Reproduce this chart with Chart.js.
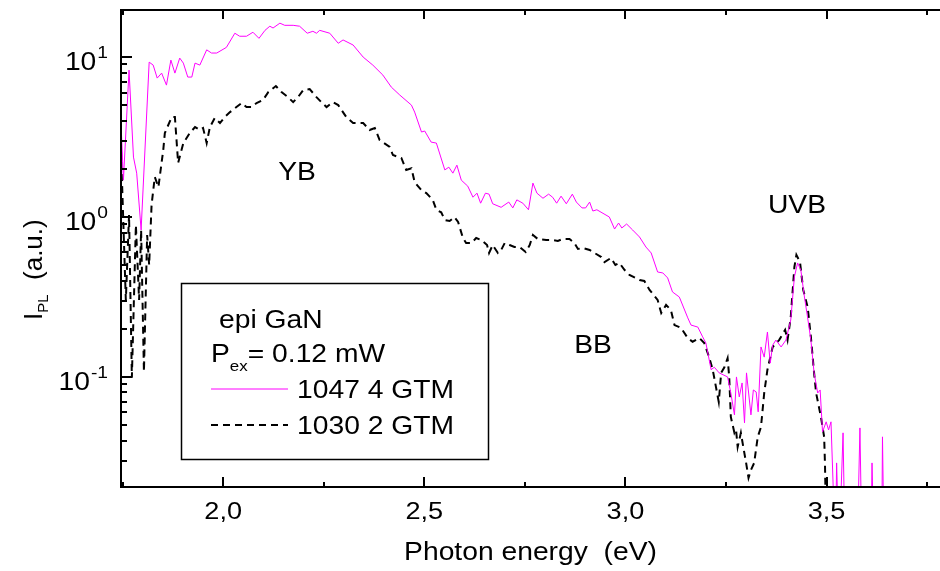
<!DOCTYPE html>
<html>
<head>
<meta charset="utf-8">
<script src="https://cdn.jsdelivr.net/npm/chart.js@4.4.0/dist/chart.umd.min.js"></script>
<style>
  html, body { margin: 0; padding: 0; background: #fff; }
  #wrap { width: 940px; height: 571px; }
</style>
</head>
<body>
<div id="wrap"><canvas id="pl-chart" width="940" height="571"></canvas></div>
<script>
// sample 1047 4 GTM (magenta, solid)
const energy1047 = [1.746, 1.752, 1.766, 1.777, 1.785, 1.796, 1.816, 1.826, 1.836, 1.847, 1.859, 1.870, 1.880, 1.892, 1.901, 1.912, 1.922, 1.930, 1.942, 1.959,
  1.971, 1.984, 2.008, 2.029, 2.041, 2.058, 2.074, 2.089, 2.104, 2.116, 2.124, 2.141, 2.153, 2.174, 2.190, 2.209, 2.223, 2.232, 2.240, 2.265,
  2.286, 2.298, 2.323, 2.348, 2.372, 2.397, 2.418, 2.439, 2.468, 2.476, 2.493, 2.501, 2.517, 2.530, 2.551, 2.561, 2.571, 2.581, 2.592, 2.608,
  2.621, 2.631, 2.640, 2.652, 2.661, 2.670, 2.691, 2.710, 2.720, 2.730, 2.745, 2.759, 2.770, 2.780, 2.795, 2.809, 2.819, 2.829, 2.840, 2.853,
  2.868, 2.878, 2.892, 2.901, 2.911, 2.919, 2.929, 2.960, 2.973, 2.983, 2.991, 3.003, 3.018, 3.035, 3.051, 3.064, 3.080, 3.093, 3.105, 3.117,
  3.134, 3.155, 3.163, 3.180, 3.192, 3.200, 3.213, 3.221, 3.233, 3.254, 3.262, 3.271, 3.276, 3.283, 3.290, 3.296, 3.301, 3.312, 3.318, 3.325,
  3.330, 3.337, 3.345, 3.353, 3.360, 3.366, 3.374, 3.387, 3.399, 3.411, 3.420, 3.428, 3.436, 3.445, 3.453, 3.461, 3.469, 3.478, 3.484, 3.490,
  3.499, 3.505, 3.511, 3.522, 3.525, 3.531, 3.541, 3.546, 3.576, 3.583, 3.588, 3.610, 3.613, 3.618, 3.637, 3.639, 3.643];
const intensity1047 = [3.87, 1.70, 8.29, 2.37, 1.88, 0.83, 9.30, 8.91, 7.39, 7.94, 6.68, 9.58, 7.94, 9.86, 9.17, 7.50, 7.50, 9.17, 8.91, 11.1,
  10.6, 10.6, 11.5, 14.1, 13.5, 13.5, 14.3, 13.1, 14.7, 15.6, 15.2, 16.3, 15.8, 15.8, 15.6, 14.1, 14.5, 14.1, 14.7, 14.1,
  12.2, 12.8, 11.9, 10.0, 8.91, 7.72, 6.49, 5.79, 5.01, 4.53, 3.40, 3.45, 2.94, 2.90, 1.97, 2.05, 1.88, 2.11, 1.70, 1.56,
  1.33, 1.41, 1.22, 1.41, 1.39, 1.21, 1.15, 1.24, 1.14, 1.28, 1.22, 1.11, 1.63, 1.41, 1.31, 1.39, 1.33, 1.22, 1.35, 1.21,
  1.39, 1.24, 1.14, 1.14, 1.24, 1.09, 1.11, 1.00, 0.841, 0.917, 0.854, 0.904, 0.829, 0.750, 0.649, 0.596, 0.453, 0.447, 0.416, 0.340,
  0.316, 0.234, 0.211, 0.205, 0.178, 0.163, 0.111, 0.115, 0.106, 0.100, 0.0794, 0.0579, 0.100, 0.0750, 0.0917, 0.0516, 0.106, 0.0579, 0.0829, 0.0806,
  0.0605, 0.154, 0.133, 0.191, 0.122, 0.158, 0.170, 0.154, 0.170, 0.227, 0.422, 0.516, 0.466, 0.316, 0.234, 0.170, 0.106, 0.0794, 0.0829, 0.0453,
  0.0524, 0.0466, 0.0524, 0.008, 0.029, 0.008, 0.0447, 0.008, 0.008, 0.048, 0.008, 0.008, 0.029, 0.008, 0.008, 0.0422, 0.008];

// sample 1030 2 GTM (black, dashed)
const energy1030 = [1.746, 1.758, 1.766, 1.773, 1.783, 1.791, 1.796, 1.803, 1.811, 1.816, 1.822, 1.830, 1.839, 1.851, 1.855, 1.872, 1.880, 1.888, 1.901, 1.917,
  1.930, 1.942, 1.950, 1.959, 1.967, 1.979, 1.992, 2.004, 2.017, 2.033, 2.046, 2.058, 2.071, 2.083, 2.099, 2.112, 2.131, 2.145, 2.161, 2.174,
  2.186, 2.199, 2.215, 2.232, 2.244, 2.257, 2.273, 2.286, 2.306, 2.323, 2.348, 2.364, 2.377, 2.389, 2.414, 2.422, 2.443, 2.455, 2.468, 2.476,
  2.493, 2.505, 2.521, 2.530, 2.542, 2.551, 2.563, 2.575, 2.584, 2.596, 2.604, 2.617, 2.629, 2.642, 2.656, 2.661, 2.670, 2.683, 2.691, 2.700,
  2.712, 2.724, 2.737, 2.752, 2.762, 2.770, 2.782, 2.803, 2.819, 2.832, 2.844, 2.861, 2.873, 2.882, 2.894, 2.911, 2.923, 2.940, 2.948, 2.964,
  2.975, 2.985, 2.998, 3.010, 3.035, 3.047, 3.060, 3.080, 3.089, 3.101, 3.113, 3.122, 3.138, 3.155, 3.167, 3.184, 3.196, 3.208, 3.217, 3.225,
  3.232, 3.238, 3.246, 3.254, 3.258, 3.262, 3.271, 3.275, 3.279, 3.287, 3.293, 3.300, 3.306, 3.312, 3.320, 3.329, 3.337, 3.345, 3.353, 3.366,
  3.382, 3.397, 3.403, 3.411, 3.420, 3.425, 3.434, 3.442, 3.453, 3.461, 3.469, 3.474, 3.486, 3.494, 3.496, 3.500];
const intensity1030 = [2.62, 0.303, 1.03, 0.099, 0.891, 0.303, 0.829, 0.108, 0.772, 0.501, 1.19, 1.78, 1.54, 2.62, 3.35, 4.22, 4.22, 2.18, 2.90, 3.35,
  3.65, 3.50, 3.60, 2.90, 3.65, 4.16, 3.87, 4.22, 4.53, 4.87, 5.16, 4.87, 4.87, 5.16, 5.39, 6.04, 6.59, 6.04, 5.62, 5.23,
  5.62, 6.22, 6.31, 5.62, 5.23, 4.87, 5.23, 5.01, 4.22, 3.87, 3.87, 3.50, 3.60, 3.03, 2.74, 2.44, 2.34, 1.97, 2.02, 1.65,
  1.47, 1.41, 1.28, 1.11, 1.07, 0.958, 0.944, 1.00, 0.931, 0.739, 0.688, 0.688, 0.739, 0.718, 0.668, 0.596, 0.668, 0.596, 0.622, 0.688,
  0.668, 0.649, 0.649, 0.604, 0.668, 0.772, 0.729, 0.718, 0.718, 0.708, 0.729, 0.729, 0.688, 0.631, 0.640, 0.622, 0.596, 0.562, 0.523, 0.554,
  0.501, 0.516, 0.466, 0.434, 0.404, 0.398, 0.350, 0.303, 0.251, 0.282, 0.262, 0.211, 0.203, 0.175, 0.166, 0.175, 0.163, 0.133, 0.111, 0.0866,
  0.0698, 0.106, 0.115, 0.131, 0.100, 0.0562, 0.0447, 0.0466, 0.0365, 0.0447, 0.0365, 0.029, 0.0234, 0.0262, 0.029, 0.0422, 0.0487, 0.0794, 0.111, 0.154,
  0.170, 0.197, 0.170, 0.237, 0.487, 0.579, 0.523, 0.350, 0.274, 0.178, 0.106, 0.0794, 0.0562, 0.0422, 0.029, 0.008];

const seriesLabels = ['1047 4 GTM', '1030 2 GTM'];
const xMajorTicks = [2.0, 2.5, 3.0, 3.5];
const xTickLabels = ['2,0', '2,5', '3,0', '3,5'];
const xMinorTicks = [1.75, 2.25, 2.75, 3.25, 3.75];
const yMajorTicks = [10, 1, 0.1];
const yTickExponents = ['1', '0', '-1'];
const bandLabels = ['YB', 'BB', 'UVB'];

const FONT = '"Liberation Sans", Arial, sans-serif';
const SX = 1.13; // the original text is a bit wider than plain Arial

function toPoints(xs, ys) {
    return xs.map((e, i) => ({ x: e, y: ys[i] }));
}

// draws stretched text, returns its width
function putText(c, str, x, y, size, align) {
    c.save();
    c.font = size + 'px ' + FONT;
    c.textAlign = align || 'left';
    c.translate(x, y);
    c.scale(SX, 1);
    c.fillText(str, 0, 0);
    const w = c.measureText(str).width * SX;
    c.restore();
    return w;
}

function textWidth(c, str, size) {
    c.save();
    c.font = size + 'px ' + FONT;
    const w = c.measureText(str).width * SX;
    c.restore();
    return w;
}

const decorations = {
    id: 'decorations',
    afterDraw(chart) {
        const { ctx, chartArea: a } = chart;
        const x = chart.scales.x;
        const y = chart.scales.y;
        ctx.save();
        ctx.strokeStyle = '#000';
        ctx.fillStyle = '#000';
        ctx.lineWidth = 2;
        ctx.textBaseline = 'alphabetic';

        // frame (no right side in the original)
        ctx.beginPath();
        ctx.moveTo(a.right, a.top);
        ctx.lineTo(a.left, a.top);
        ctx.lineTo(a.left, a.bottom);
        ctx.lineTo(a.right, a.bottom);
        ctx.stroke();

        // x ticks, inward, top and bottom
        ctx.beginPath();
        xMajorTicks.forEach(v => {
            const px = Math.round(x.getPixelForValue(v));
            ctx.moveTo(px, a.bottom); ctx.lineTo(px, a.bottom - 10);
            ctx.moveTo(px, a.top); ctx.lineTo(px, a.top + 9);
        });
        xMinorTicks.forEach(v => {
            const px = Math.round(x.getPixelForValue(v));
            ctx.moveTo(px, a.bottom); ctx.lineTo(px, a.bottom - 5);
            ctx.moveTo(px, a.top); ctx.lineTo(px, a.top + 5);
        });
        // y ticks, inward
        yMajorTicks.forEach(v => {
            const py = Math.round(y.getPixelForValue(v));
            ctx.moveTo(a.left, py); ctx.lineTo(a.left + 11, py);
        });
        [0.01, 0.1, 1, 10].forEach(d => {
            for (let m = 2; m <= 9; m++) {
                const v = m * d;
                if (v < y.min || v > y.max) continue;
                const py = Math.round(y.getPixelForValue(v));
                ctx.moveTo(a.left, py); ctx.lineTo(a.left + 6, py);
            }
        });
        ctx.stroke();

        // x tick labels
        xMajorTicks.forEach((v, i) => {
            putText(ctx, xTickLabels[i], x.getPixelForValue(v), a.bottom + 32, 24, 'center');
        });

        // y tick labels 10^n
        yMajorTicks.forEach((v, i) => {
            const py = y.getPixelForValue(v);
            const supW = putText(ctx, yTickExponents[i], 108, py + 1, 17, 'right');
            putText(ctx, '10', 108 - supW - 1, py + 13, 25, 'right');
        });

        // axis titles
        putText(ctx, 'Photon energy  (eV)', (a.left + a.right) / 2, 560, 25, 'center');

        ctx.save();
        ctx.translate(42, 320);
        ctx.rotate(-Math.PI / 2);
        ctx.textAlign = 'left';
        ctx.font = '26px ' + FONT;
        ctx.fillText('I', 0, 0);
        let w = ctx.measureText('I').width;
        ctx.font = '15px ' + FONT;
        ctx.fillText('PL', w, 6);
        w += ctx.measureText('PL').width;
        ctx.font = '26px ' + FONT;
        ctx.fillText('  (a.u.)', w, 0);
        ctx.restore();

        // band annotations
        putText(ctx, bandLabels[0], 297, 180, 25, 'center');
        putText(ctx, bandLabels[1], 593, 353, 25, 'center');
        putText(ctx, bandLabels[2], 797, 213, 25, 'center');

        // legend box
        ctx.lineWidth = 1.5;
        ctx.strokeRect(181.5, 283.5, 307, 176);
        putText(ctx, 'epi GaN', 219, 328, 25);
        let pw = putText(ctx, 'P', 211, 362, 25);
        pw += putText(ctx, 'ex', 211 + pw, 371, 15);
        putText(ctx, '= 0.12 mW', 211 + pw, 362, 25);

        const ds = chart.data.datasets;
        [389, 425].forEach((ly, i) => {
            ctx.strokeStyle = ds[i].borderColor;
            ctx.lineWidth = ds[i].borderWidth;
            ctx.setLineDash(ds[i].borderDash || []);
            ctx.beginPath();
            ctx.moveTo(211, ly);
            ctx.lineTo(288, ly);
            ctx.stroke();
            ctx.setLineDash([]);
            putText(ctx, seriesLabels[i], 297, ly + 8.5, 25);
        });
        ctx.restore();
    }
};

const ctx = document.getElementById('pl-chart').getContext('2d');
const plChart = new Chart(ctx, {
    type: 'line',
    data: {
        datasets: [{
            label: seriesLabels[0],
            data: toPoints(energy1047, intensity1047),
            borderColor: '#ff00ff',
            borderWidth: 1,
            pointRadius: 0,
            tension: 0
        }, {
            label: seriesLabels[1],
            data: toPoints(energy1030, intensity1030),
            borderColor: '#000000',
            borderWidth: 2,
            borderDash: [7, 5],
            pointRadius: 0,
            tension: 0
        }]
    },
    options: {
        responsive: false,
        animation: false,
        layout: { padding: { left: 121, top: 10, right: 0, bottom: 84 } },
        plugins: { legend: { display: false }, tooltip: { enabled: false } },
        scales: {
            x: { type: 'linear', min: 1.746, max: 3.782, display: false },
            y: { type: 'logarithmic', min: 0.0205, max: 19.7, display: false }
        }
    },
    plugins: [decorations]
});
</script>
</body>
</html>
